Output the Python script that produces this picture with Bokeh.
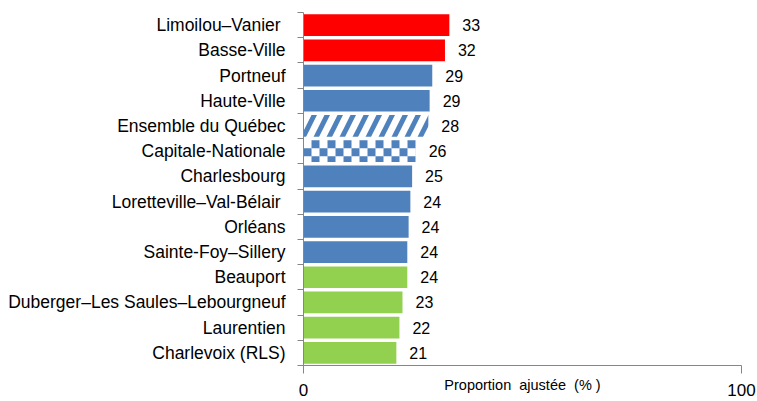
import math
from bokeh.plotting import figure
from bokeh.models import ColumnDataSource, Range1d, FixedTicker
from bokeh.core.properties import value
from bokeh.embed import file_html
from bokeh.resources import INLINE

# ---- data (top to bottom) ----
regions = ["Limoilou\u2013Vanier\u00a0", "Basse-Ville", "Portneuf", "Haute-Ville",
           "Ensemble du Québec", "Capitale-Nationale", "Charlesbourg",
           "Loretteville\u2013Val-Bélair\u00a0", "Orléans", "Sainte-Foy\u2013Sillery",
           "Beauport", "Duberger\u2013Les Saules\u2013Lebourgneuf", "Laurentien",
           "Charlevoix (RLS)"]
proportions = [33.3, 32.3, 29.4, 28.8, 28.5, 25.6, 24.8, 24.4, 24.0, 23.7, 23.7, 22.6, 21.9, 21.2]
value_labels = ["33", "32", "29", "29", "28", "26", "25", "24", "24", "24", "24", "23", "22", "21"]
groups = ["high", "high", "mid", "mid", "quebec", "capitale", "mid", "mid", "mid", "mid",
          "low", "low", "low", "low"]
x_ticks = [0, 100]

FONT = "Liberation Sans"
BLUE = "#4F81BD"
colors = {"high": "#FF0000", "mid": BLUE, "low": "#92D050"}

n = len(regions)
pos = list(range(n))

W, H = 757, 401
BL, BR, BT, BB = 303, 16, 12, 36
BAR_H = 0.86
X0, X1 = 0, 100

p = figure(width=W, height=H, output_backend="svg", toolbar_location=None,
           x_range=Range1d(X0, X1), y_range=Range1d(n - 0.5, -0.5),
           min_border_left=BL, min_border_right=BR, min_border_top=BT, min_border_bottom=BB)
p.outline_line_color = None
p.xgrid.grid_line_color = None
p.ygrid.grid_line_color = None
p.background_fill_color = "white"

solid_idx = [i for i in pos if groups[i] in colors]
src = ColumnDataSource(dict(y=[pos[i] for i in solid_idx],
                            right=[proportions[i] for i in solid_idx],
                            color=[colors[groups[i]] for i in solid_idx]))
p.hbar(y="y", left=0, right="right", height=BAR_H, source=src,
       fill_color="color", line_color=None)

# Ensemble du Québec: diagonal stripes
qi = groups.index("quebec")
p.hbar(y=[pos[qi]], left=0, right=[proportions[qi]], height=BAR_H,
       fill_color="white", line_color=None,
       hatch_pattern="/", hatch_color=BLUE, hatch_weight=5, hatch_scale=26)

# Capitale-Nationale: checkerboard fill (squares clipped to the bar)
ci = groups.index("capitale")
p.hbar(y=[pos[ci]], left=0, right=[proportions[ci]], height=BAR_H,
       fill_color="white", line_color=None)
ux = (X1 - X0) / (W - BL - BR)          # data units per pixel (x)
uy = 1.0 / ((H - BT - BB) / n)          # data units per pixel (y)
cell = 8
bar_right = proportions[ci]
bar_top = pos[ci] - BAR_H / 2
bar_bot = pos[ci] + BAR_H / 2
ql, qr, qt, qb = [], [], [], []
ncols = math.ceil(bar_right / (cell * ux))
nrows = math.ceil(BAR_H / (cell * uy))
for r in range(nrows):
    for c in range(ncols):
        if (r + c) % 2 == 1:
            l = c * cell * ux
            rr = min((c + 1) * cell * ux, bar_right)
            t = bar_top + r * cell * uy
            b = min(bar_top + (r + 1) * cell * uy, bar_bot)
            if rr > l and b > t:
                ql.append(l); qr.append(rr); qt.append(t); qb.append(b)
p.quad(left=ql, right=qr, top=qt, bottom=qb, fill_color=BLUE, line_color=None)

p.text(x=proportions, y=pos, text=value_labels, x_offset=13, text_baseline="middle",
       text_align="left", text_font=value(FONT), text_font_size="16px", text_color="black")

# y axis: labels at centres, tick marks between categories
ya = p.yaxis[0]
ya.ticker = FixedTicker(ticks=pos, minor_ticks=[i - 0.5 for i in range(n + 1)])
ya.major_label_overrides = {i: regions[i] for i in pos}
ya.major_tick_line_color = None
ya.major_tick_out = 6
ya.major_tick_in = 0
ya.minor_tick_out = 6
ya.minor_tick_in = 0
ya.minor_tick_line_color = "#868686"
ya.axis_line_color = "#868686"
ya.major_label_standoff = 12
ya.major_label_text_font = FONT
ya.major_label_text_font_size = "17.5px"
ya.major_label_text_color = "black"

xa = p.xaxis[0]
xa.ticker = FixedTicker(ticks=x_ticks, minor_ticks=[])
xa.axis_line_color = "#868686"
xa.major_tick_line_color = "#868686"
xa.major_tick_out = 8
xa.major_tick_in = 0
xa.minor_tick_line_color = None
xa.major_label_standoff = 10
xa.major_label_text_font = FONT
xa.major_label_text_font_size = "17px"
xa.major_label_text_color = "black"
xa.axis_label = "Proportion\u00a0 ajustée\u00a0 (%\u00a0)"
xa.axis_label_text_font = FONT
xa.axis_label_text_font_size = "14.5px"
xa.axis_label_text_font_style = "normal"
xa.axis_label_text_color = "black"
xa.axis_label_standoff = -22

open("out.html", "w").write(file_html(p, INLINE))
